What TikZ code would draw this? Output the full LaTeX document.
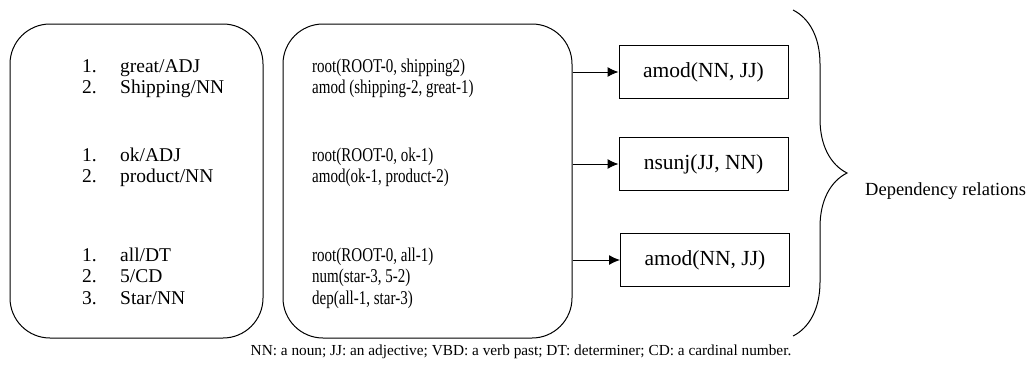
\documentclass[tikz,border=0pt]{standalone}
\usepackage{fontspec}
\setmainfont{Liberation Serif}
\newfontfamily\plainserif{Liberation Serif}
\newfontfamily\narrowserif[FakeStretch=0.77]{Liberation Serif}
\usetikzlibrary{arrows.meta,decorations.pathreplacing}

\tikzset{
  panel/.style={draw, line width=1pt, rounded corners=40pt, minimum height=314pt},
  taglist/.style={anchor=base west, inner sep=0pt, font=\plainserif\fontsize{19.5}{21.5}\selectfont},
  parselist/.style={anchor=base west, inner sep=0pt, font=\narrowserif\fontsize{19.5}{21.5}\selectfont},
  relbox/.style={draw, line width=1pt, minimum width=169pt, minimum height=53pt,
    font=\plainserif\fontsize{21.5}{24}\selectfont},
  link/.style={line width=1pt, -{Latex[length=11pt,width=10pt]}},
}

\begin{document}
\begin{tikzpicture}[x=1pt,y=-1pt]
  \useasboundingbox (0,0) rectangle (1027,365);

  % the two rounded panels
  \node [panel, minimum width=253pt] (tags) at (136.5,181) {};
  \node [panel, minimum width=289pt] (parse) at (427.5,181) {};

  % tagged words
  \node [taglist] (tagsA) at (82,72)
    {\begin{tabular}[t]{@{}p{38pt}@{}l@{}} 1. & great/ADJ\\ 2. & Shipping/NN \end{tabular}};
  \node [taglist] (tagsB) at (82,161)
    {\begin{tabular}[t]{@{}p{38pt}@{}l@{}} 1. & ok/ADJ\\ 2. & product/NN \end{tabular}};
  \node [taglist] (tagsC) at (82,261)
    {\begin{tabular}[t]{@{}p{38pt}@{}l@{}} 1. & all/DT\\ 2. & 5/CD\\ 3. & Star/NN \end{tabular}};

  % parser output
  \node [parselist] (parseA) at (312,72)
    {\begin{tabular}[t]{@{}l@{}} root(ROOT-0, shipping2)\\ amod (shipping-2, great-1) \end{tabular}};
  \node [parselist] (parseB) at (312,161)
    {\begin{tabular}[t]{@{}l@{}} root(ROOT-0, ok-1)\\ amod(ok-1, product-2) \end{tabular}};
  \node [parselist] (parseC) at (312,261)
    {\begin{tabular}[t]{@{}l@{}} root(ROOT-0, all-1)\\ num(star-3, 5-2)\\ dep(all-1, star-3) \end{tabular}};

  % extracted relations
  \node [relbox] (rel1) at (703.5,72) {amod(NN, JJ)};
  \node [relbox] (rel2) at (703.5,164) {nsunj(JJ, NN)};
  \node [relbox] (rel3) at (705,260) {amod(NN, JJ)};

  \foreach \r in {rel1,rel2,rel3}
    \draw [link] (parse.east |- \r.west) -- (\r.west);

  % brace and its label
  \draw [line width=1pt, decorate, decoration={brace, amplitude=54pt}] (793,10) -- (793,336);
  \node [anchor=west, inner sep=0pt, font=\plainserif\fontsize{18.5}{22}\selectfont] (deprel) at (865,191)
    {Dependency relations};

  \node [font=\plainserif\fontsize{15.3}{18}\selectfont] (legend) at (521,352)
    {NN: a noun; JJ: an adjective; VBD: a verb past; DT: determiner; CD: a cardinal number.};
\end{tikzpicture}
\end{document}
